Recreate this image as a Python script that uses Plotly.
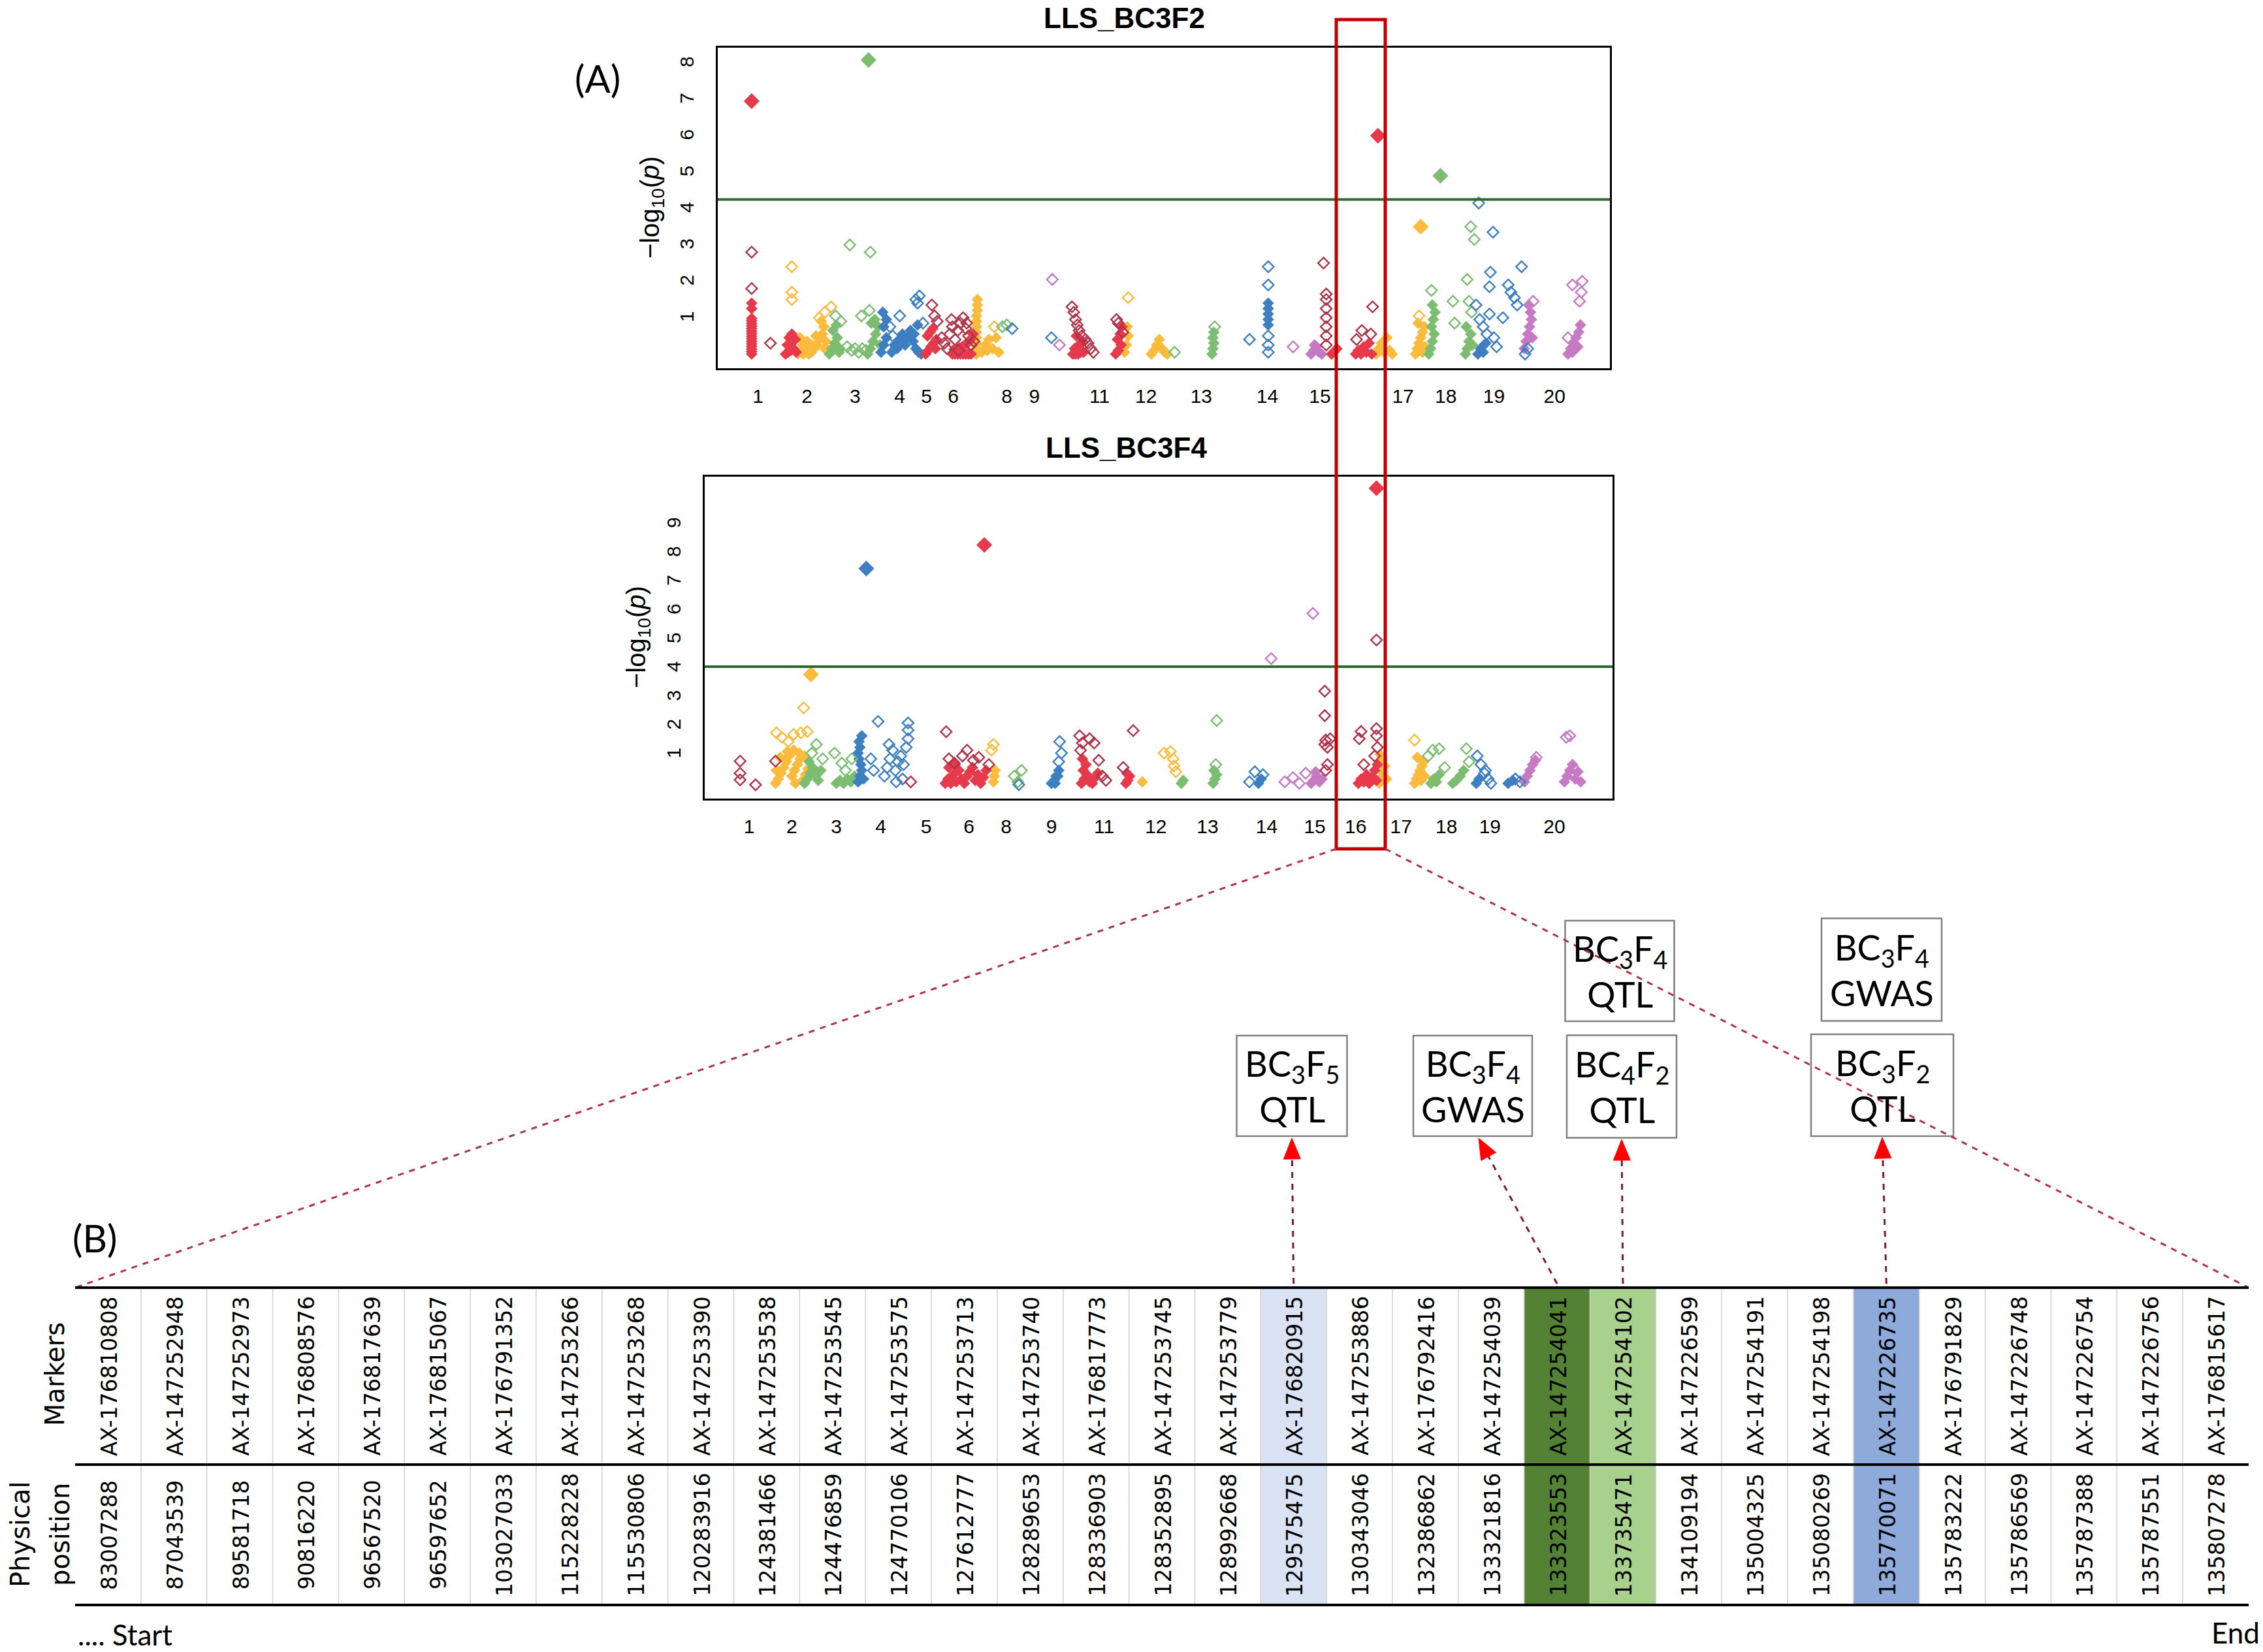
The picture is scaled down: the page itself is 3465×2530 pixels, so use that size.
import plotly.graph_objects as go

W, H = 3465, 2530

# ------------------------------------------------------------------
# Manhattan plot data  (x = position along genome axis in %, y = -log10 p)
# ------------------------------------------------------------------
F2_TICK_POS = [4.5, 10.0, 15.4, 20.4, 23.4, 26.4, 32.4, 35.5, 42.8, 48.0, 54.2, 61.6, 67.5, 76.8, 81.6, 87.0, 93.8]
F2_TICK_LAB = ['1', '2', '3', '4', '5', '6', '8', '9', '11', '12', '13', '14', '15', '17', '18', '19', '20']
F4_TICK_POS = [4.9, 9.6, 14.5, 19.4, 24.4, 29.1, 33.2, 38.2, 44.0, 49.7, 55.4, 61.9, 67.2, 71.7, 76.7, 81.7, 86.5, 93.6]
F4_TICK_LAB = ['1', '2', '3', '4', '5', '6', '8', '9', '11', '12', '13', '14', '15', '16', '17', '18', '19', '20']
F2_YTICKS = [1, 2, 3, 4, 5, 6, 7, 8]
F4_YTICKS = [1, 2, 3, 4, 5, 6, 7, 8, 9]
F2_THRESHOLD = 4.3
F4_THRESHOLD = 4.1

# ---- LLS_BC3F2 ----
F2_RED_DENSE = [(3.8, 0.05), (3.8, 0.12), (3.8, 0.19), (3.8, 0.26), (3.8, 0.33), (3.8, 0.40), (3.8, 0.47),
                (3.8, 0.54), (3.8, 0.61), (3.8, 0.68), (3.8, 0.75), (3.8, 0.82), (3.8, 0.89), (3.8, 0.96),
                (3.8, 1.03), (3.8, 1.3), (3.8, 1.45),
                (7.6, 0.05), (7.9, 0.1), (8.2, 0.15), (8.5, 0.2), (8.8, 0.1), (7.8, 0.3), (8.1, 0.35),
                (8.4, 0.4), (8.7, 0.45), (8.0, 0.5), (8.3, 0.6),
                (23.3, 0.05), (23.6, 0.15), (23.9, 0.25), (24.2, 0.35), (24.5, 0.45), (23.5, 0.55),
                (23.8, 0.65), (24.1, 0.75), (24.4, 0.2),
                (26.3, 0.05), (26.6, 0.05), (26.9, 0.05), (27.2, 0.05), (27.5, 0.05), (27.8, 0.05),
                (28.1, 0.05), (28.4, 0.05), (26.5, 0.18), (26.8, 0.2), (27.1, 0.22), (27.4, 0.25),
                (27.7, 0.3), (28.0, 0.35), (28.3, 0.45), (28.6, 0.6),
                (39.8, 0.05), (40.1, 0.05), (40.4, 0.05), (40.7, 0.1), (41.0, 0.1), (40.0, 0.2),
                (40.3, 0.25), (40.6, 0.3), (40.9, 0.4), (40.2, 0.55),
                (44.6, 0.05), (44.9, 0.15), (45.2, 0.3), (44.8, 0.45), (45.1, 0.6), (45.3, 0.8),
                (68.8, 0.05), (69.1, 0.12), (69.4, 0.2),
                (71.5, 0.05), (71.8, 0.15), (72.1, 0.05), (72.4, 0.25), (72.7, 0.1), (73.0, 0.35), (73.3, 0.05)]
F2_RED_OPEN = [(3.8, 1.85), (3.8, 2.85), (5.9, 0.35), (24.0, 1.4), (24.3, 1.1), (24.6, 0.95),
               (25.1, 0.5), (25.4, 0.35), (25.7, 0.2), (26.0, 0.6), (26.3, 0.8), (26.6, 0.45), (26.9, 0.7),
               (27.2, 0.9), (27.5, 1.05), (27.8, 0.75), (28.1, 0.55), (28.4, 0.3), (28.7, 0.4), (26.2, 1.0),
               (27.0, 0.15), (27.9, 0.9),
               (39.7, 1.35), (39.9, 1.2), (40.1, 1.0), (40.3, 0.85), (40.5, 0.7), (40.8, 0.55), (41.2, 0.45),
               (41.5, 0.35), (41.8, 0.2), (42.1, 0.1), (44.7, 1.0), (44.9, 0.9), (45.4, 0.65),
               (68.2, 0.3), (68.2, 0.55), (68.2, 0.8), (68.2, 1.05), (68.2, 1.3), (68.2, 1.55), (68.2, 1.7),
               (67.9, 2.55), (71.6, 0.45), (72.2, 0.7), (73.2, 0.6), (73.4, 1.35)]
F2_RED_SIG = [(3.8, 7.0), (74.0, 6.05)]
F2_YELLOW_DENSE = [(9.0, 0.05), (9.3, 0.1), (9.6, 0.05), (9.9, 0.15), (10.2, 0.05), (10.5, 0.1), (10.8, 0.2),
                   (11.1, 0.3), (11.4, 0.45), (11.7, 0.6), (11.9, 0.8), (11.6, 0.95), (12.1, 0.4), (12.4, 0.15),
                   (9.5, 0.3), (10.0, 0.4), (10.6, 0.3), (11.0, 0.55), (9.2, 0.5), (12.0, 0.2),
                   (29.0, 0.05), (29.0, 0.2), (29.0, 0.35), (29.0, 0.5), (29.0, 0.65), (29.0, 0.8),
                   (29.0, 0.95), (29.0, 1.1), (29.1, 1.25), (29.1, 1.4), (29.1, 1.55), (29.6, 0.1),
                   (30.0, 0.3), (30.4, 0.45), (30.8, 0.2), (31.2, 0.5), (31.5, 0.1), (30.2, 0.15),
                   (45.6, 0.1), (45.8, 0.3), (46.0, 0.55), (45.9, 0.8),
                   (48.6, 0.05), (48.9, 0.15), (49.2, 0.3), (49.5, 0.45), (49.8, 0.2), (50.1, 0.1), (50.4, 0.05),
                   (73.8, 0.05), (74.1, 0.2), (74.4, 0.35), (74.7, 0.1), (75.0, 0.5), (75.3, 0.15), (75.6, 0.05),
                   (78.2, 0.05), (78.4, 0.2), (78.6, 0.35), (78.8, 0.5), (79.0, 0.65), (79.2, 0.8), (78.5, 0.9),
                   (79.0, 0.1), (79.3, 0.25)]
F2_YELLOW_OPEN = [(8.3, 2.45), (8.3, 1.75), (8.3, 1.55), (12.0, 1.2), (12.7, 1.35), (11.4, 1.05), (46.0, 1.6),
                  (78.6, 1.1), (31.0, 0.8)]
F2_YELLOW_SIG = [(78.8, 3.55)]
F2_GREEN_DENSE = [(12.5, 0.05), (12.8, 0.2), (13.1, 0.35), (13.4, 0.5), (13.7, 0.2), (12.9, 0.7), (13.3, 0.85),
                  (13.6, 0.1), (16.8, 0.05), (17.1, 0.2), (17.4, 0.4), (17.7, 0.6), (18.0, 0.8), (17.2, 0.9),
                  (17.6, 1.0), (18.2, 0.3), (55.4, 0.05), (55.5, 0.2), (55.6, 0.35), (55.5, 0.5), (55.6, 0.65),
                  (79.7, 0.05), (79.9, 0.2), (80.1, 0.4), (80.3, 0.6), (80.0, 0.8), (80.2, 1.0), (80.4, 1.2),
                  (80.1, 1.4), (83.8, 0.05), (84.0, 0.2), (84.2, 0.4), (84.4, 0.6), (84.6, 0.3), (83.9, 0.8)]
F2_GREEN_OPEN = [(13.8, 0.95), (13.2, 1.1), (14.8, 3.05), (17.1, 2.85), (15.0, 0.15), (15.4, 0.2), (15.8, 0.1),
                 (16.2, 0.2), (16.6, 0.15), (16.1, 1.1), (14.5, 0.25), (17.0, 1.25), (51.2, 0.1), (55.7, 0.8),
                 (80.0, 1.8), (82.4, 1.5), (82.6, 0.9), (84.4, 3.55), (84.8, 3.2), (84.2, 1.5), (84.0, 2.1),
                 (84.5, 1.2), (31.9, 0.8), (32.4, 0.85)]
F2_GREEN_SIG = [(16.9, 8.13), (81.0, 4.95)]
F2_BLUE_DENSE = [(18.3, 0.1), (18.6, 0.3), (18.9, 0.5), (18.6, 0.8), (18.9, 1.0), (18.5, 1.2),
                 (19.5, 0.1), (19.8, 0.3), (20.1, 0.2), (20.4, 0.45), (20.7, 0.6), (21.0, 0.3), (21.3, 0.5),
                 (21.6, 0.7), (21.9, 0.4), (22.2, 0.2), (22.5, 0.1), (22.8, 0.05), (22.4, 0.85), (22.0, 0.6),
                 (61.7, 0.85), (61.7, 1.0), (61.7, 1.15), (61.7, 1.3), (61.7, 1.45),
                 (85.2, 0.05), (85.5, 0.2), (85.8, 0.1), (86.1, 0.35)]
F2_BLUE_OPEN = [(20.4, 1.1), (22.2, 1.55), (22.6, 1.65), (22.4, 1.45), (19.3, 0.8), (19.6, 0.55), (20.0, 0.25),
                (23.0, 0.9), (37.4, 0.5), (59.6, 0.45), (61.7, 0.1), (61.7, 0.3), (61.7, 0.55), (61.7, 1.95),
                (61.7, 2.45), (85.3, 4.2), (86.9, 3.4), (85.0, 1.4), (85.4, 1.0), (85.8, 0.8), (86.2, 0.6),
                (86.5, 1.15), (86.6, 2.3), (86.5, 1.9), (87.0, 0.5), (87.3, 0.25), (88.6, 1.95), (88.9, 1.75),
                (89.3, 1.6), (89.6, 1.4), (90.1, 2.45), (90.5, 0.05), (90.8, 0.2), (88.0, 1.05), (33.0, 0.75)]
F2_VIOLET_DENSE = [(66.5, 0.05), (66.8, 0.15), (67.1, 0.25), (67.4, 0.1), (67.7, 0.05), (66.9, 0.3),
                   (90.4, 0.2), (90.6, 0.4), (90.8, 0.6), (91.0, 0.8), (91.2, 1.0), (91.1, 1.2), (90.9, 1.4),
                   (91.3, 0.5), (95.3, 0.05), (95.6, 0.2), (95.9, 0.35), (96.2, 0.5), (96.5, 0.65), (96.7, 0.85),
                   (95.8, 0.1), (96.4, 0.25)]
F2_VIOLET_OPEN = [(96.6, 1.5), (96.8, 1.75), (96.9, 2.05), (95.8, 1.95), (91.4, 1.5), (95.3, 0.5), (64.5, 0.25),
                  (38.3, 0.3), (37.5, 2.1)]

# ---- LLS_BC3F4 ----
F4_RED_DENSE = [(26.5, 0.05), (26.8, 0.2), (27.1, 0.05), (27.4, 0.35), (27.7, 0.1), (28.0, 0.5), (28.3, 0.2),
                (28.6, 0.05), (28.9, 0.3), (29.2, 0.45), (29.5, 0.6), (29.8, 0.15), (30.1, 0.35), (30.4, 0.05),
                (30.7, 0.25), (31.0, 0.5), (26.9, 0.6), (27.6, 0.7),
                (41.5, 0.05), (41.8, 0.2), (42.1, 0.35), (42.4, 0.1), (42.7, 0.05), (43.0, 0.25), (43.3, 0.4),
                (41.7, 0.5), (42.0, 0.7), (41.6, 0.9),
                (46.4, 0.05), (46.6, 0.15), (46.8, 0.3), (46.5, 0.4),
                (72.0, 0.05), (72.3, 0.2), (72.6, 0.1), (72.9, 0.35), (73.2, 0.05), (73.5, 0.25), (73.8, 0.5),
                (74.1, 0.7), (74.0, 0.15)]
F4_RED_OPEN = [(3.9, 0.82), (3.9, 0.4), (3.9, 0.17), (5.6, 0.0), (7.8, 0.82), (22.7, 0.1), (26.6, 1.84),
               (26.9, 0.9), (27.5, 0.75), (28.4, 1.0), (28.9, 1.2), (29.6, 0.85), (30.2, 0.95), (31.3, 0.7),
               (41.3, 1.7), (41.6, 1.45), (41.4, 1.2), (42.4, 1.6), (42.9, 1.45), (43.4, 0.85), (43.8, 0.3),
               (44.2, 0.15), (47.2, 1.88), (46.1, 0.6),
               (68.3, 3.25), (68.3, 2.4), (68.4, 1.55), (68.3, 1.4), (68.6, 1.3), (68.6, 0.7), (68.9, 1.6),
               (68.4, 0.5), (72.3, 1.85), (72.1, 1.6), (74.0, 1.95), (74.0, 1.7), (74.1, 1.3), (73.8, 1.0),
               (72.6, 0.7), (74.0, 5.03)]
F4_RED_SIG = [(30.8, 8.33), (74.0, 10.3)]
F4_YELLOW_DENSE = [(7.8, 0.05), (8.1, 0.2), (8.4, 0.4), (8.7, 0.6), (9.0, 0.8), (9.3, 1.0), (9.6, 0.3),
                   (9.9, 0.5), (10.2, 0.7), (10.5, 0.9), (10.8, 0.15), (11.1, 0.35), (11.4, 0.55), (8.3, 0.95),
                   (9.1, 1.15), (9.8, 1.2), (10.4, 1.1), (11.0, 1.0), (7.9, 0.5), (10.0, 0.05),
                   (31.8, 0.1), (31.9, 0.3), (32.0, 0.5), (48.2, 0.1),
                   (74.3, 0.05), (74.5, 0.25), (74.7, 0.45), (74.9, 0.65), (74.6, 0.85), (74.4, 1.05), (75.1, 0.2),
                   (78.2, 0.05), (78.4, 0.2), (78.6, 0.35), (78.8, 0.5), (79.0, 0.65), (79.2, 0.8), (78.5, 0.95),
                   (78.9, 0.15), (79.3, 0.3)]
F4_YELLOW_OPEN = [(10.9, 2.67), (7.9, 1.8), (8.5, 1.65), (9.2, 1.5), (9.8, 1.75), (10.6, 1.8), (11.3, 1.85),
                  (31.8, 1.4), (31.6, 1.2), (50.6, 1.1), (51.3, 1.15), (51.6, 0.9), (51.7, 0.65), (51.9, 0.45),
                  (78.2, 1.55)]
F4_YELLOW_SIG = [(11.7, 3.83)]
F4_GREEN_DENSE = [(11.0, 0.05), (11.3, 0.2), (11.6, 0.4), (11.9, 0.6), (12.2, 0.3), (12.5, 0.15), (12.8, 0.5),
                  (11.5, 0.8), (14.5, 0.05), (14.9, 0.15), (15.3, 0.05), (15.7, 0.2), (16.1, 0.1), (16.5, 0.3),
                  (52.5, 0.05), (52.7, 0.15), (56.0, 0.05), (56.2, 0.2), (56.4, 0.35), (56.1, 0.5),
                  (80.0, 0.05), (80.3, 0.2), (80.6, 0.1), (80.9, 0.35),
                  (82.4, 0.05), (82.8, 0.15), (83.2, 0.3), (83.6, 0.5)]
F4_GREEN_OPEN = [(12.3, 1.4), (11.8, 1.1), (13.0, 0.9), (14.3, 1.1), (15.1, 0.75), (15.5, 0.5), (16.2, 0.9),
                 (34.1, 0.3), (34.5, 0.1), (34.9, 0.5), (56.4, 2.23), (56.3, 0.7), (79.7, 1.0), (80.2, 1.2),
                 (80.9, 1.25), (83.9, 1.25), (84.2, 0.8), (81.5, 0.6)]
F4_BLUE_DENSE = [(16.9, 0.1), (17.1, 0.3), (17.3, 0.5), (17.2, 0.7), (17.0, 0.9), (16.9, 1.1), (17.1, 1.3),
                 (17.0, 1.5), (17.3, 1.7), (17.5, 0.2), (38.2, 0.05), (38.5, 0.15), (38.8, 0.3), (39.0, 0.5),
                 (38.6, 0.05), (61.0, 0.05), (61.3, 0.2), (85.0, 0.05), (85.3, 0.2), (88.5, 0.05), (89.0, 0.15)]
F4_BLUE_OPEN = [(19.1, 2.2), (19.8, 0.3), (20.1, 0.6), (20.4, 0.9), (20.7, 1.2), (21.0, 0.5), (21.3, 0.8),
                (21.6, 1.0), (21.9, 0.7), (22.2, 1.3), (22.4, 1.6), (22.4, 1.9), (22.4, 2.15), (20.3, 1.4),
                (21.1, 0.1), (21.8, 0.2), (18.3, 0.9), (18.6, 0.5), (39.1, 1.5), (39.3, 1.1), (39.0, 0.8),
                (38.8, 0.3), (60.0, 0.1), (60.6, 0.45), (61.5, 0.35), (85.1, 1.0), (85.5, 0.7), (85.9, 0.4),
                (86.3, 0.2), (86.6, 0.05), (86.0, 0.5), (89.3, 0.2), (89.8, 0.1), (34.6, 0.0)]
F4_BLUE_SIG = [(17.8, 7.51)]
F4_VIOLET_DENSE = [(66.8, 0.05), (67.1, 0.15), (67.4, 0.3), (67.7, 0.1), (68.0, 0.2), (67.3, 0.45),
                   (90.3, 0.1), (90.6, 0.3), (90.9, 0.5), (91.2, 0.7), (91.5, 0.85),
                   (94.7, 0.1), (95.0, 0.3), (95.3, 0.5), (95.6, 0.7), (95.9, 0.2), (96.2, 0.45), (96.5, 0.1)]
F4_VIOLET_OPEN = [(62.4, 4.38), (67.0, 5.95), (63.9, 0.1), (64.8, 0.25), (65.5, 0.05), (66.2, 0.4), (94.9, 1.65),
                  (95.3, 1.7), (91.6, 0.95), (95.8, 0.55)]

# ------------------------------------------------------------------
# Table data
# ------------------------------------------------------------------
MARKERS = ['AX-176810808', 'AX-147252948', 'AX-147252973', 'AX-176808576', 'AX-176817639', 'AX-176815067',
           'AX-176791352', 'AX-147253266', 'AX-147253268', 'AX-147253390', 'AX-147253538', 'AX-147253545',
           'AX-147253575', 'AX-147253713', 'AX-147253740', 'AX-176817773', 'AX-147253745', 'AX-147253779',
           'AX-176820915', 'AX-147253886', 'AX-176792416', 'AX-147254039', 'AX-147254041', 'AX-147254102',
           'AX-147226599', 'AX-147254191', 'AX-147254198', 'AX-147226735', 'AX-176791829', 'AX-147226748',
           'AX-147226754', 'AX-147226756', 'AX-176815617']
POSITIONS = ['83007288', '87043539', '89581718', '90816220', '96567520', '96597652', '103027033', '115228228',
             '115530806', '120283916', '124381466', '124476859', '124770106', '127612777', '128289653',
             '128336903', '128352895', '128992668', '129575475', '130343046', '132386862', '133321816',
             '133323553', '133735471', '134109194', '135004325', '135080269', '135770071', '135783222',
             '135786569', '135787388', '135787551', '135807278']

BOX_LABELS = ['BC<sub>3</sub>F<sub>5</sub><br>QTL', 'BC<sub>3</sub>F<sub>4</sub><br>GWAS',
              'BC<sub>4</sub>F<sub>2</sub><br>QTL', 'BC<sub>3</sub>F<sub>4</sub><br>QTL',
              'BC<sub>3</sub>F<sub>4</sub><br>GWAS', 'BC<sub>3</sub>F<sub>2</sub><br>QTL']
# marker each lower box points to
BOX_TARGETS = ['AX-176820915', 'AX-147254041', 'AX-147254102', 'AX-147226735']

# ------------------------------------------------------------------
# styling
# ------------------------------------------------------------------
RED, DRED, YEL, GRN, BLU, VIO = '#e63a4c', '#ad3449', '#fbbb3c', '#7cbd72', '#3d7fc1', '#c57ac3'
HIGHLIGHT = {'AX-176820915': '#dae3f3', 'AX-147254041': '#548235', 'AX-147254102': '#a9d18e',
             'AX-147226735': '#8eaadb'}


def X(p):
    return p / W


def Y(p):
    return 1 - p / H


fig = go.Figure()


def add_series(pts, color, kind, xa, ya):
    xs = [p[0] for p in pts]
    ys = [p[1] for p in pts]
    if kind == 'open':
        mk = dict(symbol='diamond-open', size=13, color=color, line=dict(width=2.4, color=color))
    elif kind == 'dense':
        mk = dict(symbol='diamond', size=12, color=color, line=dict(width=1.5, color=color))
    else:
        mk = dict(symbol='diamond', size=17, color=color, line=dict(width=1.5, color=color))
    fig.add_trace(go.Scatter(x=xs, y=ys, mode='markers', marker=mk, xaxis=xa, yaxis=ya,
                             showlegend=False, hoverinfo='skip'))


for pts, col, kind in [(F2_YELLOW_DENSE, YEL, 'dense'), (F2_GREEN_DENSE, GRN, 'dense'),
                       (F2_BLUE_DENSE, BLU, 'dense'), (F2_VIOLET_DENSE, VIO, 'dense'),
                       (F2_RED_DENSE, RED, 'dense'), (F2_YELLOW_OPEN, YEL, 'open'),
                       (F2_GREEN_OPEN, GRN, 'open'), (F2_BLUE_OPEN, BLU, 'open'),
                       (F2_VIOLET_OPEN, VIO, 'open'), (F2_RED_OPEN, DRED, 'open'),
                       (F2_RED_SIG, RED, 'sig'), (F2_YELLOW_SIG, YEL, 'sig'), (F2_GREEN_SIG, GRN, 'sig')]:
    add_series(pts, col, kind, 'x', 'y')

for pts, col, kind in [(F4_YELLOW_DENSE, YEL, 'dense'), (F4_GREEN_DENSE, GRN, 'dense'),
                       (F4_BLUE_DENSE, BLU, 'dense'), (F4_VIOLET_DENSE, VIO, 'dense'),
                       (F4_RED_DENSE, RED, 'dense'), (F4_YELLOW_OPEN, YEL, 'open'),
                       (F4_GREEN_OPEN, GRN, 'open'), (F4_BLUE_OPEN, BLU, 'open'),
                       (F4_VIOLET_OPEN, VIO, 'open'), (F4_RED_OPEN, DRED, 'open'),
                       (F4_RED_SIG, RED, 'sig'), (F4_YELLOW_SIG, YEL, 'sig'), (F4_BLUE_SIG, BLU, 'sig')]:
    add_series(pts, col, kind, 'x2', 'y2')

AXFONT = dict(family='Liberation Sans, Arial', size=30, color='black')
frame = dict(showline=True, mirror=True, linecolor='black', linewidth=3, showgrid=False, zeroline=False,
             ticks='', tickfont=AXFONT)

shapes = []
annotations = []

fig.update_layout(
    width=W, height=H, margin=dict(l=0, r=0, t=0, b=0),
    paper_bgcolor='white', plot_bgcolor='white', showlegend=False,
    xaxis=dict(domain=[X(1099), X(2465)], range=[0, 100], tickvals=F2_TICK_POS, ticktext=F2_TICK_LAB,
               anchor='y', ticklabelstandoff=14, **frame),
    yaxis=dict(domain=[Y(564), Y(73)], range=[-0.34, 8.47], tickvals=F2_YTICKS, tickangle=-90,
               anchor='x', ticklabelstandoff=22, **frame),
    xaxis2=dict(domain=[X(1079), X(2469)], range=[0, 100], tickvals=F4_TICK_POS, ticktext=F4_TICK_LAB,
                anchor='y2', ticklabelstandoff=14, **frame),
    yaxis2=dict(domain=[Y(1223), Y(730)], range=[-0.48, 10.7], tickvals=F4_YTICKS, tickangle=-90,
                anchor='x2', ticklabelstandoff=22, **frame),
)

# threshold lines
shapes.append(dict(type='line', xref='x', yref='y', x0=0, x1=100, y0=F2_THRESHOLD, y1=F2_THRESHOLD,
                   line=dict(color='#2e6a2e', width=4), layer='above'))
shapes.append(dict(type='line', xref='x2', yref='y2', x0=0, x1=100, y0=F4_THRESHOLD, y1=F4_THRESHOLD,
                   line=dict(color='#2e6a2e', width=4), layer='above'))

# titles and y labels
TFONT = dict(family='Liberation Sans, Arial', size=44, color='black')
annotations.append(dict(text='<b>LLS_BC3F2</b>', x=X(1721), y=Y(27), xref='paper', yref='paper',
                        showarrow=False, font=TFONT, xanchor='center', yanchor='middle'))
annotations.append(dict(text='<b>LLS_BC3F4</b>', x=X(1724), y=Y(685), xref='paper', yref='paper',
                        showarrow=False, font=TFONT, xanchor='center', yanchor='middle'))
YL = dict(family='Liberation Sans, Arial', size=40, color='black')
annotations.append(dict(text='−log<sub>10</sub>(<i>p</i>)', x=X(998), y=Y(318), xref='paper', yref='paper',
                        showarrow=False, textangle=-90, font=YL, xanchor='center', yanchor='middle'))
annotations.append(dict(text='−log<sub>10</sub>(<i>p</i>)', x=X(977), y=Y(976), xref='paper', yref='paper',
                        showarrow=False, textangle=-90, font=YL, xanchor='center', yanchor='middle'))

LAB = dict(family='Lato, Noto Sans', size=58, color='black')
annotations.append(dict(text='(A)', x=X(915), y=Y(120), xref='paper', yref='paper', showarrow=False,
                        font=LAB, xanchor='center', yanchor='middle'))
annotations.append(dict(text='(B)', x=X(145), y=Y(1895), xref='paper', yref='paper', showarrow=False,
                        font=LAB, xanchor='center', yanchor='middle'))
SE = dict(family='Lato, Noto Sans', size=44, color='black')
annotations.append(dict(text='.... Start', x=X(117), y=Y(2503), xref='paper', yref='paper', showarrow=False,
                        font=SE, xanchor='left', yanchor='middle'))
annotations.append(dict(text='End', x=X(3462), y=Y(2500), xref='paper', yref='paper', showarrow=False,
                        font=SE, xanchor='right', yanchor='middle'))

# red rectangle and zoom lines
RB = dict(x0=2046, x1=2121, y0=30, y1=1300)
shapes.append(dict(type='rect', xref='paper', yref='paper', x0=X(RB['x0']), x1=X(RB['x1']),
                   y0=Y(RB['y1']), y1=Y(RB['y0']), line=dict(color='#c00000', width=5), layer='above'))
TL, TR = 115, 3443
TT, TM, TB = 1972, 2243, 2458
ZOOM_LINE = dict(color='#b03048', width=3, dash='dash')
shapes.append(dict(type='line', xref='paper', yref='paper', x0=X(RB['x0']), y0=Y(RB['y1']), x1=X(TL),
                   y1=Y(TT), line=ZOOM_LINE, layer='above'))
shapes.append(dict(type='line', xref='paper', yref='paper', x0=X(RB['x1']), y0=Y(RB['y1']), x1=X(TR),
                   y1=Y(TT), line=ZOOM_LINE, layer='above'))

# table
n = len(MARKERS)
cw = (TR - TL) / n
for i, m in enumerate(MARKERS):
    x0 = TL + i * cw
    if m in HIGHLIGHT:
        shapes.append(dict(type='rect', xref='paper', yref='paper', x0=X(x0), x1=X(x0 + cw), y0=Y(TB), y1=Y(TT),
                           fillcolor=HIGHLIGHT[m], line=dict(width=0), layer='below'))
for i in range(1, n):
    x0 = TL + i * cw
    shapes.append(dict(type='line', xref='paper', yref='paper', x0=X(x0), x1=X(x0), y0=Y(TB), y1=Y(TT),
                       line=dict(color='#d0d0d0', width=1.5), layer='below'))
for yy in (TT, TM, TB):
    shapes.append(dict(type='line', xref='paper', yref='paper', x0=X(TL), x1=X(TR), y0=Y(yy), y1=Y(yy),
                       line=dict(color='black', width=4)))
CELL = dict(family='DejaVu Sans, Verdana', size=33, color='black')
for i in range(n):
    cx = TL + (i + 0.5) * cw + 2
    annotations.append(dict(text=MARKERS[i], x=X(cx), y=Y((TT + TM) / 2), xref='paper', yref='paper',
                            showarrow=False, textangle=-90, font=CELL, xanchor='center', yanchor='middle'))
    annotations.append(dict(text=POSITIONS[i], x=X(cx), y=Y((TM + TB) / 2), xref='paper', yref='paper',
                            showarrow=False, textangle=-90, font=CELL, xanchor='center', yanchor='middle'))
RL = dict(family='DejaVu Sans, Verdana', size=40, color='black')
annotations.append(dict(text='Markers', x=X(84), y=Y(2105), xref='paper', yref='paper', showarrow=False,
                        textangle=-90, font=RL, xanchor='center', yanchor='middle'))
annotations.append(dict(text='Physical', x=X(31), y=Y(2350), xref='paper', yref='paper', showarrow=False,
                        textangle=-90, font=RL, xanchor='center', yanchor='middle'))
annotations.append(dict(text='position', x=X(92), y=Y(2350), xref='paper', yref='paper', showarrow=False,
                        textangle=-90, font=RL, xanchor='center', yanchor='middle'))

# label boxes: (center x, center y, width, height) in pixels
BOX_GEOM = [(1978, 1663, 169, 154), (2255, 1663, 182, 154), (2483, 1664, 168, 157),
            (2480, 1487, 167, 154), (2881, 1485, 184, 157), (2882, 1662, 218, 156)]
BFONT = dict(family='Lato, Noto Sans', size=54, color='black')
for lab, (cx, cy, bw, bh) in zip(BOX_LABELS, BOX_GEOM):
    shapes.append(dict(type='rect', xref='paper', yref='paper', x0=X(cx - bw / 2), x1=X(cx + bw / 2),
                       y0=Y(cy + bh / 2), y1=Y(cy - bh / 2), line=dict(color='#7f7f7f', width=2.5),
                       fillcolor='white', layer='below'))
    annotations.append(dict(text=lab, x=X(cx), y=Y(cy), xref='paper', yref='paper', showarrow=False,
                            font=BFONT, xanchor='center', yanchor='middle', align='center'))

# arrows from highlighted markers to the lower boxes
idx = {m: i for i, m in enumerate(MARKERS)}
tips = [(BOX_GEOM[0][0], 1743), (2264, 1743), (BOX_GEOM[2][0], 1745), (BOX_GEOM[5][0], 1742)]
SHAFT = dict(color='#7b1c2c', width=3, dash='dash')
for m, (tx, ty) in zip(BOX_TARGETS, tips):
    sx = TL + (idx[m] + 0.5) * cw
    sy = TT - 6
    dx, dy = tx - sx, ty - sy
    L = (dx * dx + dy * dy) ** 0.5
    ux, uy = dx / L, dy / L
    hl, hw = 32, 13
    bx, by = tx - ux * hl, ty - uy * hl
    shapes.append(dict(type='line', xref='paper', yref='paper', x0=X(sx), y0=Y(sy), x1=X(bx), y1=Y(by),
                       line=SHAFT))
    px_, py_ = -uy, ux
    path = 'M {:.6f},{:.6f} L {:.6f},{:.6f} L {:.6f},{:.6f} Z'.format(
        X(tx), Y(ty), X(bx + px_ * hw), Y(by + py_ * hw), X(bx - px_ * hw), Y(by - py_ * hw))
    shapes.append(dict(type='path', xref='paper', yref='paper', path=path, fillcolor='#ff0000',
                       line=dict(color='#ff0000', width=1)))

fig.update_layout(shapes=shapes, annotations=annotations)
fig.write_html('out.html', config={'displayModeBar': False},
               post_script="document.body.style.margin='0px';")
